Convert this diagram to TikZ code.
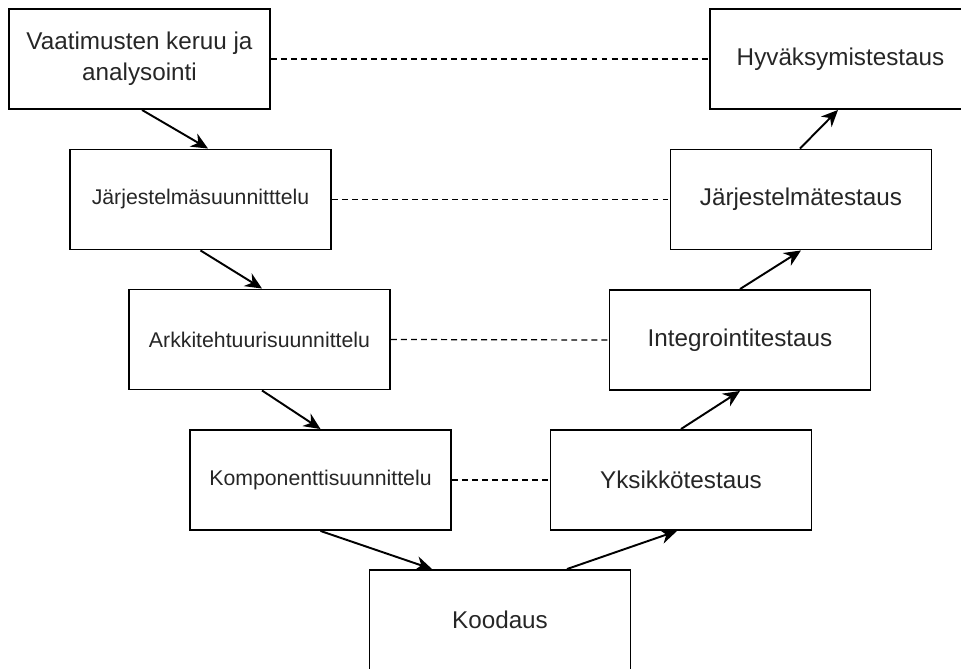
\documentclass[tikz,border=0pt]{standalone}
\usepackage{fontspec}
\setmainfont{Liberation Sans}
\usetikzlibrary{arrows.meta}
\begin{document}
\begin{tikzpicture}[
  phase/.style={draw, line width=1.1pt, minimum width=5.22cm, minimum height=2cm, align=center,
    font=\fontsize{13.8}{17.6}\selectfont, text=black!85},
  small/.style={font=\fontsize{12.1}{14.5}\selectfont},
  flow/.style={-{Stealth[length=9.5pt,width=8.5pt]}, line width=1.1pt},
  pair/.style={dash pattern=on 3.4pt off 2.3pt, line width=0.7pt}]
\useasboundingbox (0,0) rectangle (19.22,13.36);
% left leg of the V
\node[phase] (req) at (2.79,12.18) {Vaatimusten keruu ja\\analysointi};
\node[phase, small] (sysd) at (4.01,9.37) {Järjestelmäsuunnitttelu};
\node[phase, small] (arch) at (5.19,6.57) {Arkkitehtuurisuunnittelu};
\node[phase, small] (comp) at (6.41,3.76) {Komponenttisuunnittelu};
% bottom
\node[phase] (code) at (10.0,0.96) {Koodaus};
% right leg of the V
\node[phase] (unit) at (13.62,3.76) {Yksikkötestaus};
\node[phase] (integ) at (14.8,6.56) {Integrointitestaus};
\node[phase] (syst) at (16.02,9.37) {Järjestelmätestaus};
\node[phase] (acc) at (16.81,12.18) {Hyväksymistestaus};
% flow down and up
\draw[flow] ([xshift=0.05cm]req.south) -- ([xshift=0.15cm]sysd.north);
\draw[flow] (sysd.south) -- ([xshift=0.05cm]arch.north);
\draw[flow] ([xshift=0.05cm]arch.south) -- (comp.north);
\draw[flow] (comp.south) -- ([xshift=-1.36cm]code.north);
\draw[flow] ([xshift=1.34cm]code.north) -- ([xshift=-0.08cm]unit.south);
\draw[flow] (unit.north) -- (integ.south);
\draw[flow] (integ.north) -- (syst.south);
\draw[flow] ([xshift=-0.02cm]syst.north) -- ([xshift=-0.05cm]acc.south);
% verification pairs
\draw[pair] (req.east) -- (acc.west);
\draw[pair] (sysd.east) -- (syst.west);
\draw[pair] (arch.east) -- (integ.west);
\draw[pair] (comp.east) -- (unit.west);
\end{tikzpicture}
\end{document}
